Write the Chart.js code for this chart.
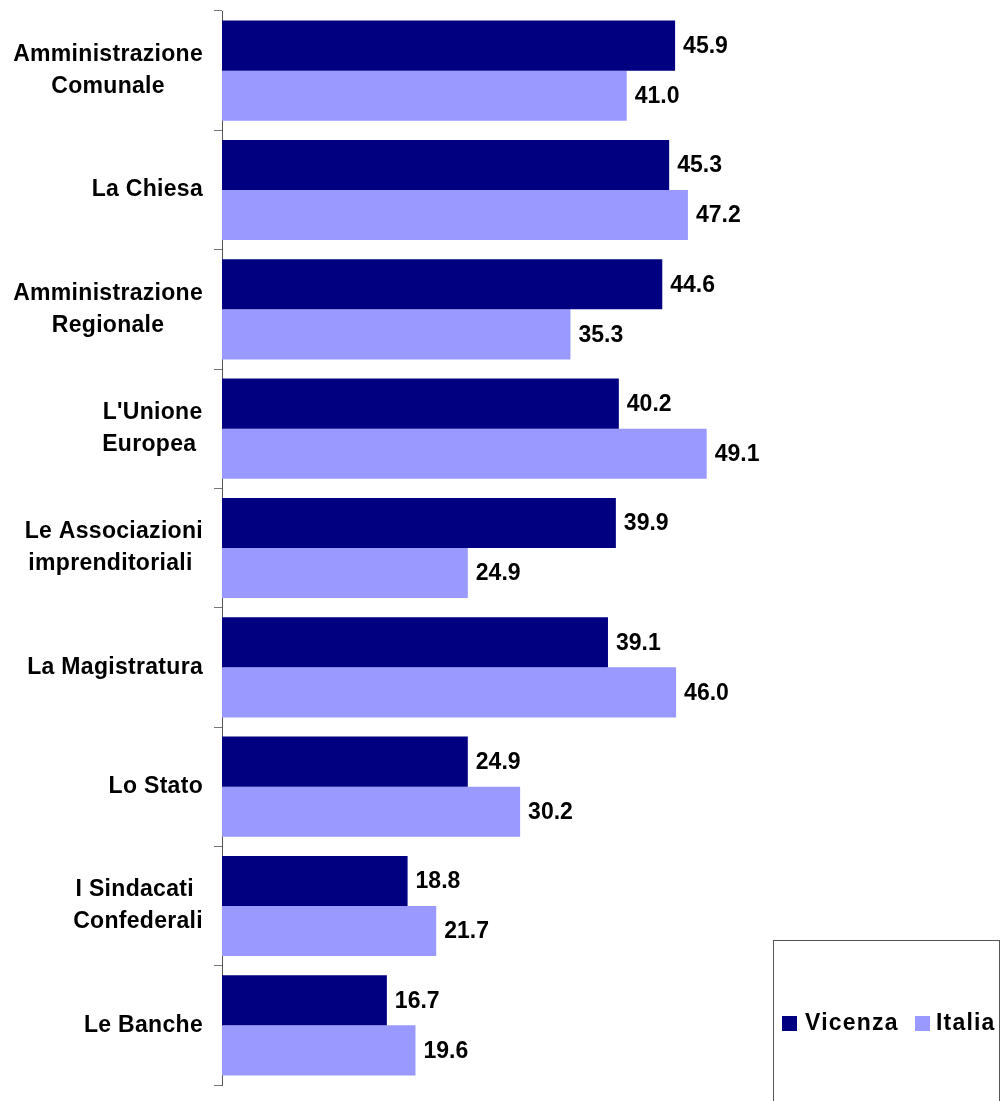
<!DOCTYPE html>
<html>
<head>
<meta charset="utf-8">
<script src="https://cdn.jsdelivr.net/npm/chart.js@4.4.0/dist/chart.umd.min.js"></script>
<style>
  html, body { margin: 0; padding: 0; background: #fff; }
  #wrap { width: 1005px; height: 1101px; position: relative; }
</style>
</head>
<body>
<div id="wrap"><canvas id="c"></canvas></div>
<script>
const categories = [
  ["Amministrazione", "Comunale"],
  ["La Chiesa"],
  ["Amministrazione", "Regionale"],
  ["L'Unione", "Europea "],
  ["Le Associazioni", "imprenditoriali "],
  ["La Magistratura"],
  ["Lo Stato"],
  ["I Sindacati ", "Confederali"],
  ["Le Banche"]
];
const seriesNames = ["Vicenza", "Italia"];
const vicenza = [45.9, 45.3, 44.6, 40.2, 39.9, 39.1, 24.9, 18.8, 16.7];
const italia = [41.0, 47.2, 35.3, 49.1, 24.9, 46.0, 30.2, 21.7, 19.6];
const colors = ["#000080", "#9999FF"];

const FONT = "bold 23px 'Liberation Sans', Arial, sans-serif";

const catLabelsPlugin = {
  id: 'catLabels',
  afterDraw(chart) {
    const ctx = chart.ctx;
    const y = chart.scales.y;
    ctx.save();
    ctx.font = FONT;
    ctx.letterSpacing = '0.3px';
    ctx.fillStyle = '#000';
    ctx.textBaseline = 'middle';
    ctx.textAlign = 'center';
    const right = 203;
    const lh = 32;
    categories.forEach((lines, i) => {
      const cy = y.getPixelForValue(i);
      let maxW = 0;
      lines.forEach(l => { maxW = Math.max(maxW, ctx.measureText(l).width); });
      const cx = right - maxW / 2;
      lines.forEach((l, k) => {
        ctx.fillText(l, cx, cy - (lines.length - 1) * lh / 2 + k * lh);
      });
    });
    ctx.restore();
  }
};

const valueLabelsPlugin = {
  id: 'valueLabels',
  afterDatasetsDraw(chart) {
    const ctx = chart.ctx;
    ctx.save();
    ctx.font = FONT;
    ctx.letterSpacing = '0px';
    ctx.fillStyle = '#000';
    ctx.textBaseline = 'middle';
    ctx.textAlign = 'left';
    chart.data.datasets.forEach((ds, di) => {
      const meta = chart.getDatasetMeta(di);
      meta.data.forEach((bar, i) => {
        ctx.fillText(ds.data[i].toFixed(1), bar.x + 8, bar.y + 1);
      });
    });
    ctx.restore();
  }
};

const legendPlugin = {
  id: 'boxLegend',
  afterDraw(chart) {
    const ctx = chart.ctx;
    ctx.save();
    ctx.strokeStyle = '#555';
    ctx.lineWidth = 1;
    ctx.strokeRect(773.5, 940.5, 226, 180);
    ctx.font = FONT;
    ctx.letterSpacing = '1.2px';
    ctx.textBaseline = 'middle';
    ctx.textAlign = 'left';
    const items = [{x: 782, tx: 805}, {x: 915, tx: 936}];
    chart.data.datasets.forEach((ds, di) => {
      const it = items[di];
      ctx.fillStyle = ds.backgroundColor;
      ctx.fillRect(it.x, 1016, 15, 15);
      ctx.fillStyle = '#000';
      ctx.fillText(ds.label, it.tx, 1024);
    });
    ctx.restore();
  }
};

new Chart(document.getElementById('c'), {
  type: 'bar',
  data: {
    labels: categories,
    datasets: [
      { label: seriesNames[0], data: vicenza, backgroundColor: colors[0], borderWidth: 0 },
      { label: seriesNames[1], data: italia, backgroundColor: colors[1], borderWidth: 0 }
    ]
  },
  options: {
    indexAxis: 'y',
    responsive: true,
    maintainAspectRatio: false,
    animation: false,
    categoryPercentage: 0.84,
    barPercentage: 1.0,
    layout: { padding: { top: 11, bottom: 16, left: 0, right: 92 } },
    plugins: {
      legend: { display: false },
      tooltip: { enabled: false }
    },
    scales: {
      x: { display: false, min: 0, max: 70 },
      y: {
        position: 'left',
        afterFit(scale) { scale.width = 222; },
        grid: { display: true, drawOnChartArea: false, drawTicks: true, tickLength: 8, offset: true, color: '#777', lineWidth: 1 },
        border: { display: true, color: '#555', width: 1 },
        ticks: { display: false }
      }
    }
  },
  plugins: [catLabelsPlugin, valueLabelsPlugin, legendPlugin]
});
</script>
</body>
</html>
